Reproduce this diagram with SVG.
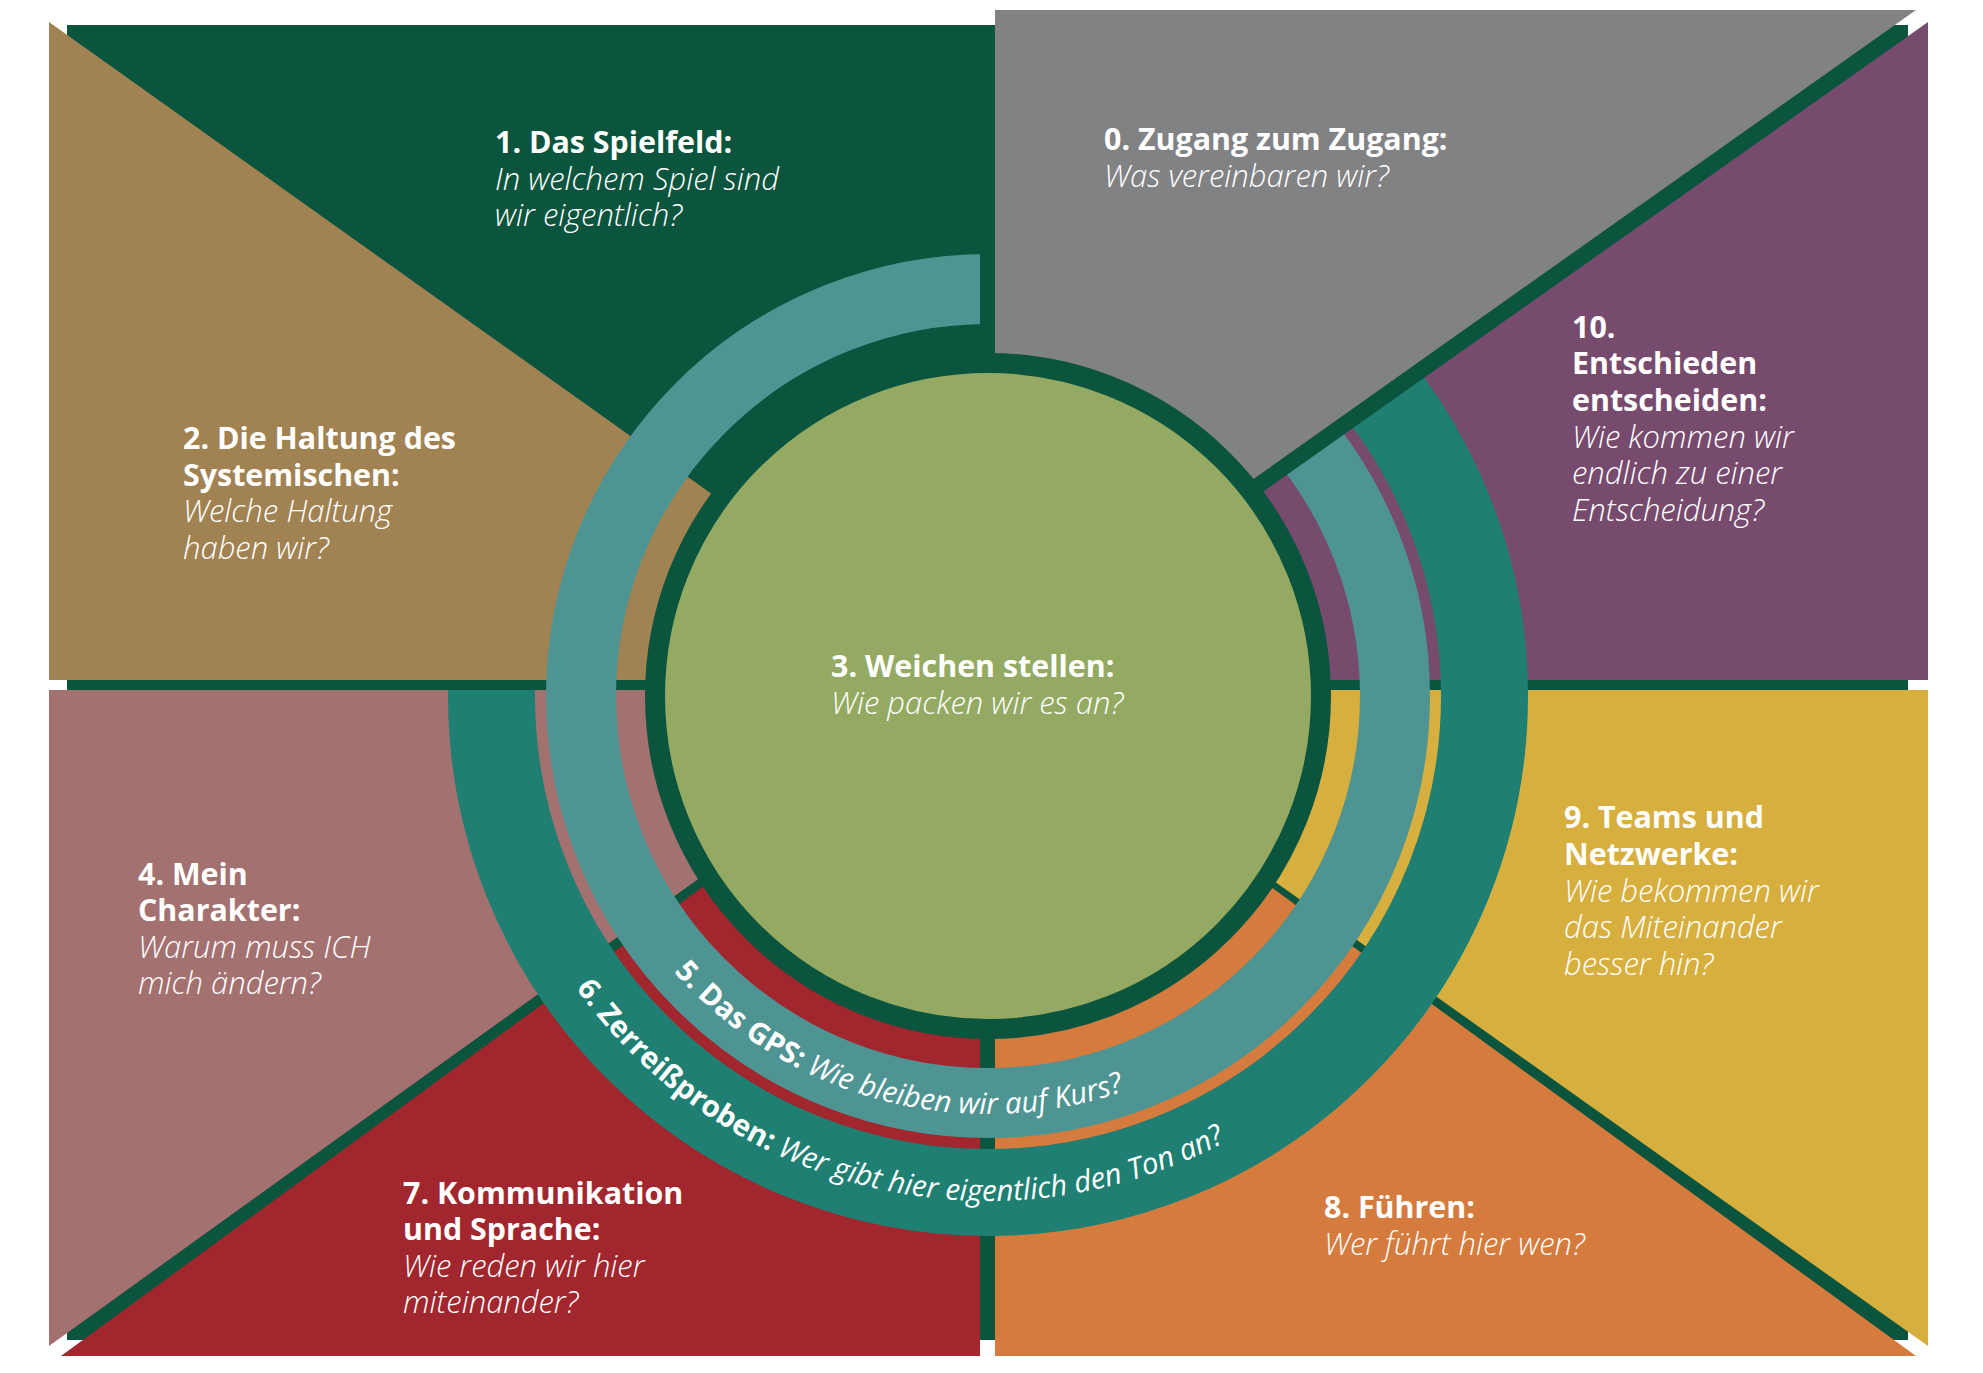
<svg xmlns="http://www.w3.org/2000/svg" width="1983" height="1373" viewBox="0 0 1983 1373">
<style>
  .t { font-family: "Open Sans", "Liberation Sans", sans-serif; fill: #ffffff; }
  .b { font-weight: 700; font-size: 30.4px; }
  .q { font-style: italic; font-weight: 300; font-size: 31px; }
  .rt { font-family: "Open Sans", "Liberation Sans", sans-serif; fill: #ffffff; font-size: 29.5px; }
  .rb { font-weight: 700; font-style: normal; }
  .rq { font-weight: 400; font-style: italic; }
</style>
<defs>
  <clipPath id="clip6">
    <polygon points="0,690 980,690 980,0 1983,0 1983,1373 0,1373"/>
  </clipPath>
  <path id="arc5" d="M 570 696 A 418 418 0 0 0 1406 696"/>
  <path id="arc6" d="M 483 696 A 505 505 0 0 0 1493 696"/>
</defs>
<rect x="0" y="0" width="1983" height="1373" fill="#ffffff"/>
<rect id="background" x="67" y="25" width="1841" height="1315" fill="#0B543D"/>

<g id="node-1">
  <polygon points="67,25 980,25 980,680 973,680 67,35" fill="#0B543D"/>
  <text class="t b" x="495" y="153">1. Das Spielfeld:</text>
  <text class="t q" x="495" y="190">In welchem Spiel sind</text>
  <text class="t q" x="495" y="226">wir eigentlich?</text>
</g>
<g id="node-2">
  <polygon points="49,22 973,680 49,680" fill="#A18353"/>
  <text class="t b" x="183" y="449">2. Die Haltung des</text>
  <text class="t b" x="183" y="486">Systemischen:</text>
  <text class="t q" x="183" y="522">Welche Haltung</text>
  <text class="t q" x="183" y="559">haben wir?</text>
</g>
<g id="node-10">
  <polygon points="1928,22 1928,680 995,680" fill="#774B6D"/>
  <text class="t b" x="1572" y="338">10.</text>
  <text class="t b" x="1572" y="374">Entschieden</text>
  <text class="t b" x="1572" y="411">entscheiden:</text>
  <text class="t q" x="1572" y="448">Wie kommen wir</text>
  <text class="t q" x="1572" y="484">endlich zu einer</text>
  <text class="t q" x="1572" y="521">Entscheidung?</text>
</g>
<g id="node-4">
  <polygon points="49,690 961,690 49,1346" fill="#A47171"/>
  <text class="t b" x="138" y="885">4. Mein</text>
  <text class="t b" x="138" y="921">Charakter:</text>
  <text class="t q" x="138" y="958">Warum muss ICH</text>
  <text class="t q" x="138" y="994">mich ändern?</text>
</g>
<g id="node-7">
  <polygon points="61,1356 972,690 980,690 980,1356" fill="#A2262E"/>
  <text class="t b" x="403" y="1204">7. Kommunikation</text>
  <text class="t b" x="403" y="1240">und Sprache:</text>
  <text class="t q" x="403" y="1277">Wie reden wir hier</text>
  <text class="t q" x="403" y="1313">miteinander?</text>
</g>
<g id="node-8">
  <polygon points="995,1356 995,690 1000,690 1916,1356" fill="#D47B3D"/>
  <text class="t b" x="1324" y="1218">8. Führen:</text>
  <text class="t q" x="1324" y="1255">Wer führt hier wen?</text>
</g>
<g id="node-9">
  <polygon points="1005,690 1928,690 1928,1346" fill="#D7AF3E"/>
  <text class="t b" x="1564" y="828">9. Teams und</text>
  <text class="t b" x="1564" y="865">Netzwerke:</text>
  <text class="t q" x="1564" y="902">Wie bekommen wir</text>
  <text class="t q" x="1564" y="938">das Miteinander</text>
  <text class="t q" x="1564" y="975">besser hin?</text>
</g>

<g id="node-6">
  <circle cx="988" cy="696" r="496.5" fill="none" stroke="#1E7F72" stroke-width="87" clip-path="url(#clip6)"/>
  <text class="rt"><textPath href="#arc6" startOffset="42.6%" text-anchor="middle"><tspan class="rb">6. Zerreißproben:</tspan><tspan class="rq"> Wer gibt hier eigentlich den Ton an?</tspan></textPath></text>
</g>
<g id="node-5">
  <circle cx="988" cy="696" r="407" fill="none" stroke="#4E9492" stroke-width="70"/>
  <text class="rt"><textPath href="#arc5" startOffset="41.75%" text-anchor="middle"><tspan class="rb">5. Das GPS:</tspan><tspan class="rq"> Wie bleiben wir auf Kurs?</tspan></textPath></text>
</g>

<g id="connectors">
  <polygon points="980,25 1908,25 1908,36 995,681 980,681" fill="#0B543D"/>
</g>

<g id="node-0">
  <polygon points="995,10 1916,10 995,662" fill="#818284"/>
  <text class="t b" x="1104" y="150">0. Zugang zum Zugang:</text>
  <text class="t q" x="1104" y="187">Was vereinbaren wir?</text>
</g>

<g id="node-3">
  <circle cx="988" cy="696" r="333" fill="#94AA63" stroke="#0B543D" stroke-width="20"/>
  <text class="t b" x="831" y="677">3. Weichen stellen:</text>
  <text class="t q" x="831" y="714">Wie packen wir es an?</text>
</g>
</svg>
